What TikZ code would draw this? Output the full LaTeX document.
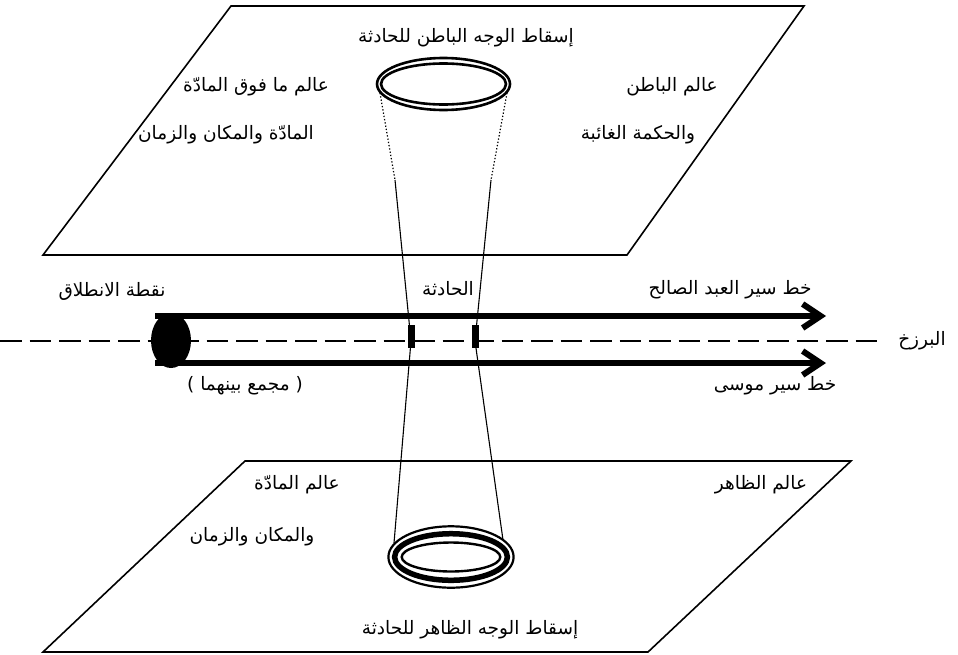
\documentclass[tikz,border=0pt]{standalone}
\usepackage{fontspec}
\TeXXeTstate=1
\newfontfamily\arabicfont[Script=Arabic]{DejaVu Sans}
\usetikzlibrary{arrows.meta,shapes.geometric}
\newcommand\artxt[1]{{\arabicfont\beginR #1\endR}}
\begin{document}
\begin{tikzpicture}[x=1pt,y=-1pt,
  lbl/.style={font=\arabicfont\fontsize{18.5}{20}\selectfont, inner sep=0pt, anchor=center},
  plane/.style={draw, line width=1.6pt, line join=miter},
  route/.style={line width=6pt, -{Straight Barb[length=18pt,width=24pt]}},
  conel/.style={line width=1.1pt},
  dotl/.style={line width=1.2pt, dash pattern=on 1.3pt off 2pt},
]
\useasboundingbox (0,0) rectangle (958,654);

% planes
\draw[plane] (231,6) -- (804,6) -- (627,255) -- (43,255) -- cycle;
\draw[plane] (245,461) -- (851,461) -- (648,652) -- (43,652) -- cycle;

% top ellipse
\draw[line width=2.6pt] (443.5,84) ellipse [x radius=66.5pt, y radius=26pt];
\draw[line width=2.6pt] (443.5,84) ellipse [x radius=62.5pt, y radius=20.5pt];

% bottom ellipse
\draw[line width=2.2pt] (451,557) ellipse [x radius=62.6pt, y radius=30.7pt];
\draw[line width=5.5pt] (451,557) ellipse [x radius=56.4pt, y radius=23.3pt];
\draw[line width=2.4pt] (451,557) ellipse [x radius=49.3pt, y radius=14.5pt];

% cone
\coordinate (tl) at (380,93);
\coordinate (tr) at (507,93);
\coordinate (ml) at (395,180);
\coordinate (mr) at (491,180);
\coordinate (cl) at (411,341);
\coordinate (cr) at (475,341);
\coordinate (bl) at (394,543);
\coordinate (br) at (503,540);
\draw[dotl] (tl) -- (ml);
\draw[dotl] (tr) -- (mr);
\draw[conel] (ml) -- (cl) -- (bl);
\draw[conel] (mr) -- (cr) -- (br);

% isthmus dashed line
\coordinate (d0) at (0,341);
\coordinate (d1) at (877,341);
\draw[line width=2.5pt, dash pattern=on 21.5pt off 8pt] (d0) -- (d1);

% start point
\node[fill, ellipse, minimum width=40pt, minimum height=55pt, inner sep=0pt] (start) at (171,340.5) {};
\coordinate (s1) at (155,316);
\coordinate (s2) at (155,363);
\coordinate (e1) at (826,316);
\coordinate (e2) at (826,363);
\draw[route] (s1) -- (e1);
\draw[route] (s2) -- (e2);

% event marks
\node[fill, minimum width=7pt, minimum height=23pt, inner sep=0pt] (m1) at (411,336.5) {};
\node[fill, minimum width=7pt, minimum height=23pt, inner sep=0pt] (m2) at (475,336.5) {};

% labels
\node[lbl] (t1) at (466,38) {\artxt{إسقاط الوجه الباطن للحادثة}};
\node[lbl] (t2) at (256,87) {\artxt{عالم ما فوق المادّة}};
\node[lbl] (t3) at (226,135) {\artxt{المادّة والمكان والزمان}};
\node[lbl] (t4) at (672,87) {\artxt{عالم الباطن}};
\node[lbl] (t5) at (638,135) {\artxt{والحكمة الغائبة}};
\node[lbl] (t6) at (112,291) {\artxt{نقطة الانطلاق}};
\node[lbl] (t7) at (448,289) {\artxt{الحادثة}};
\node[lbl] (t8) at (730,290) {\artxt{خط سير العبد الصالح}};
\node[lbl] (t9) at (922,341) {\artxt{البرزخ}};
\node[lbl] (t10) at (245,386) {)\ \artxt{مجمع بينهما}\ (};
\node[lbl] (t11) at (775,386) {\artxt{خط سير موسى}};
\node[lbl] (t12) at (297,485) {\artxt{عالم المادّة}};
\node[lbl] (t13) at (252,537) {\artxt{والمكان والزمان}};
\node[lbl] (t14) at (761,485) {\artxt{عالم الظاهر}};
\node[lbl] (t15) at (470,630) {\artxt{إسقاط الوجه الظاهر للحادثة}};
\end{tikzpicture}
\end{document}
